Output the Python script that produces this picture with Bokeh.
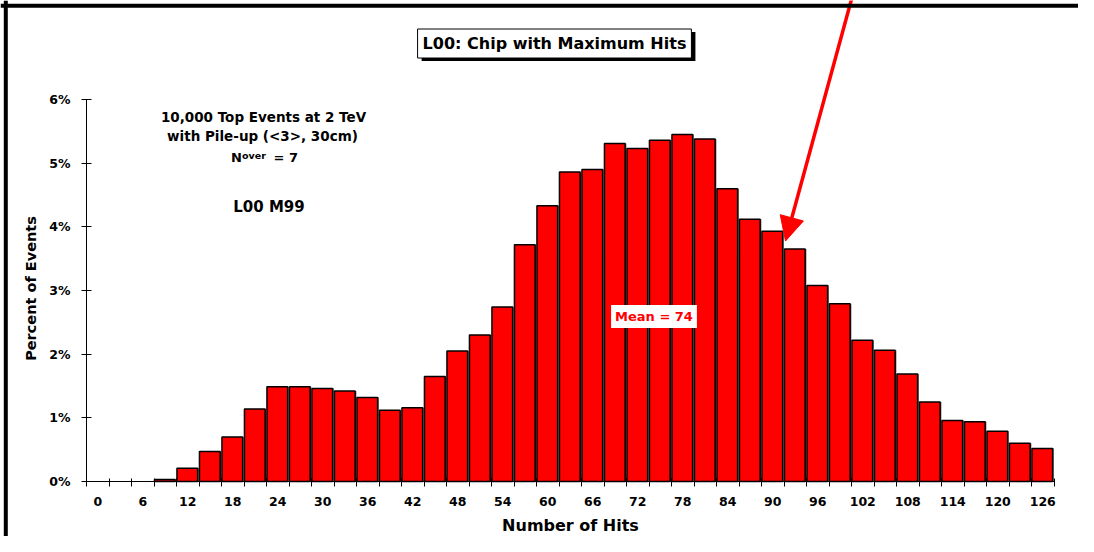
import math
from bokeh.plotting import figure
from bokeh.models import Range1d, FixedTicker, Label, Arrow, NormalHead, ColumnDataSource, Span
from bokeh.embed import file_html
from bokeh.resources import INLINE

# ---- data ----
hits = list(range(0, 127, 3))  # bin categories 0..126
pct = [0, 0, 0, 0.03, 0.21, 0.47, 0.70, 1.14, 1.49, 1.49, 1.46, 1.42, 1.32, 1.12,
       1.16, 1.65, 2.05, 2.30, 2.74, 3.72, 4.33, 4.86, 4.90, 5.31, 5.23, 5.36,
       5.45, 5.38, 4.60, 4.12, 3.93, 3.65, 3.08, 2.79, 2.22, 2.06, 1.69, 1.25,
       0.96, 0.94, 0.79, 0.60, 0.52]
y_ticks = [0, 1, 2, 3, 4, 5, 6]
x_label_hits = hits[::2]

title_text = "L00: Chip with Maximum Hits"
info_lines = ["10,000 Top Events at 2 TeV", "with Pile-up (<3>, 30cm)"]
mean_text = "Mean = 74"
module_text = "L00 M99"
x_title = "Number of Hits"
y_title = "Percent of Events"

FONT = "DejaVu Sans"

# ---- layout (canvas pixels) ----
W, H = 1078, 536
AX_LEFT, AX_BOTTOM, AX_TOP = 86.0, 481.0, 99.0
BIN_PX = 22.5
UNIT_PX = (AX_BOTTOM - AX_TOP) / 6.0


def dx(px):
    return (px - AX_LEFT) / BIN_PX


def dy(py):
    return (AX_BOTTOM - py) / UNIT_PX


nb = len(hits)
idx = [h // 3 for h in hits]
src = ColumnDataSource(dict(
    x=[i + 0.48 for i, v in zip(idx, pct) if v > 0],
    xs=[i + 0.54 for i, v in zip(idx, pct) if v > 0],
    top=[v for v in pct if v > 0],
))

p = figure(width=W, height=H, output_backend="svg", toolbar_location=None,
           x_range=Range1d(dx(0), dx(W)), y_range=Range1d(dy(H), dy(0)),
           min_border=0, min_border_left=0, min_border_right=0,
           min_border_top=0, min_border_bottom=0)
p.outline_line_color = None
p.xgrid.visible = False
p.ygrid.visible = False
p.background_fill_color = "white"
p.border_fill_color = "white"

# bars with slight gray shadow
p.vbar(x="xs", top="top", width=0.92, source=src, fill_color="#8a8a8a", line_color=None)
p.vbar(x="x", top="top", width=0.92, source=src, fill_color="#ff0000",
       line_color="black", line_width=1.5)

# x axis
xa = p.xaxis[0]
xa.fixed_location = 0
xa.bounds = (0, nb)
xa.ticker = FixedTicker(ticks=[i + 0.5 for i in range(0, nb, 2)],
                        minor_ticks=list(range(0, nb + 1)))
xa.major_label_overrides = {i * 2 + 0.5: str(h) for i, h in enumerate(x_label_hits)}
xa.major_tick_in = 0
xa.major_tick_out = 0
xa.minor_tick_in = 3
xa.minor_tick_out = 5
xa.minor_tick_line_color = "black"
xa.axis_line_color = "black"
xa.axis_line_width = 1
xa.major_label_text_font = FONT
xa.major_label_text_font_style = "bold"
xa.major_label_text_font_size = "12.5px"
xa.major_label_text_color = "black"
xa.major_label_standoff = 10

# y axis
ya = p.yaxis[0]
ya.fixed_location = 0
ya.bounds = (0, 6)
ya.ticker = FixedTicker(ticks=y_ticks)
ya.major_label_overrides = {t: f"{t}%" for t in y_ticks}
ya.major_tick_in = 5
ya.major_tick_out = 5
ya.minor_tick_line_color = None
ya.axis_line_color = "black"
ya.major_label_text_font = FONT
ya.major_label_text_font_style = "bold"
ya.major_label_text_font_size = "12.5px"
ya.major_label_text_color = "black"
ya.major_label_standoff = 11

txt = dict(text_font=FONT, text_font_style="bold", text_color="black")

# axis titles
p.add_layout(Label(x=dx(570), y=dy(524.5), text=x_title, text_font_size="16px",
                   text_align="center", text_baseline="middle", **txt))
p.add_layout(Label(x=dx(30), y=dy(288), text=y_title, text_font_size="14.5px",
                   angle=math.pi / 2, text_align="center", text_baseline="middle", **txt))

# title box with shadow
common = dict(text_font=FONT, text_font_style="bold", text_font_size="16px",
              text_align="center", text_baseline="middle", padding=5)
p.add_layout(Label(x=dx(554), y=dy(43), text=title_text, text_color="black",
                   background_fill_color="black", x_offset=4, y_offset=-3, **common))
p.add_layout(Label(x=dx(554), y=dy(43), text=title_text, text_color="black",
                   background_fill_color="white", border_line_color="black",
                   border_line_width=1, **common))

# info text
p.add_layout(Label(x=dx(263), y=dy(116.7), text=info_lines[0], text_font_size="13.5px",
                   text_align="center", text_baseline="middle", **txt))
p.add_layout(Label(x=dx(262), y=dy(135), text=info_lines[1], text_font_size="13.5px",
                   text_align="center", text_baseline="middle", **txt))
p.add_layout(Label(x=dx(230.5), y=dy(156.7), text="N", text_font_size="13px",
                   text_align="left", text_baseline="alphabetic", **txt))
p.add_layout(Label(x=dx(241.5), y=dy(155), text="over", text_font_size="9.5px",
                   text_align="left", text_baseline="alphabetic", **txt))
p.add_layout(Label(x=dx(273), y=dy(156.7), text="= 7", text_font_size="13px",
                   text_align="left", text_baseline="alphabetic", **txt))
p.add_layout(Label(x=dx(268.5), y=dy(206), text=module_text, text_font_size="15px",
                   text_align="center", text_baseline="middle", **txt))

# mean label
p.add_layout(Label(x=dx(653.5), y=dy(316), text=mean_text, text_font=FONT, text_font_style="bold",
                   text_font_size="13px", text_color="#ff0000", text_align="center",
                   text_baseline="middle", background_fill_color="white", padding=4))

# red arrow
p.add_layout(Arrow(x_start=dx(851.5), y_start=dy(-3), x_end=dx(785), y_end=dy(240.5),
                   line_color="#ff0000", line_width=3.5,
                   end=NormalHead(size=24, fill_color="#ff0000", line_color="#ff0000")))

# outer frame lines
p.add_layout(Span(location=dx(5.3), dimension="height", line_color="black", line_width=4))
p.add_layout(Span(location=dy(5.3), dimension="width", line_color="black", line_width=4))

open("out.html", "w").write(file_html(p, INLINE))
